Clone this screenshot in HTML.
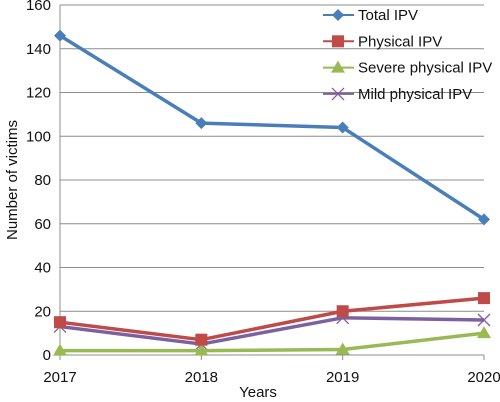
<!DOCTYPE html>
<html><head><meta charset="utf-8"><style>
body{margin:0;background:#fff}
svg{display:block;font-family:"Liberation Sans",Arial,sans-serif}
</style></head><body>
<svg id="c" width="500" height="402"></svg>
<script>
const years=["2017","2018","2019","2020"];
const totalIPV=[146,106,104,62];
const physicalIPV=[15,7,20,26];
const severeIPV=[2,2,2.5,10];
const mildIPV=[13,5,17,16];
const yTicks=[0,20,40,60,80,100,120,140,160];
const NS="http://www.w3.org/2000/svg";
const svg=document.getElementById('c');
const x0=60,x1=484,y0=355,y1=5;
const xs=i=>x0+i*(x1-x0)/(years.length-1);
const ys=v=>y0-(v/160)*(y0-y1);
function mk(t,a,p){const e=document.createElementNS(NS,t);for(const k in a)e.setAttribute(k,a[k]);(p||svg).appendChild(e);return e;}
yTicks.forEach(v=>{
 const g=mk('line',{x1:x0,x2:x1,y1:ys(v),y2:ys(v),stroke:'#8c8c8c','stroke-width':1});
 
 
 const t=mk('text',{x:51,y:ys(v)+5,'text-anchor':'end','font-size':15,fill:'#111'});
 t.textContent=v;
 
 
});
const ax=mk('line',{x1:x0,x2:x0,y1:y1,y2:y0,stroke:'#8c8c8c'});


years.forEach((y,i)=>{
 const tk=mk('line',{x1:xs(i),x2:xs(i),y1:y0,y2:y0+5,stroke:'#8c8c8c'});
 
 
 const t=mk('text',{x:xs(i),y:382,'text-anchor':'middle','font-size':15,fill:'#111'});
 t.textContent=y;
 
 
});
const yt=mk('text',{x:0,y:0,transform:'translate(17,180) rotate(-90)','text-anchor':'middle','font-size':15,fill:'#111'});
yt.textContent='Number of victims';


const xt=mk('text',{x:258,y:397,'text-anchor':'middle','font-size':15,fill:'#111'});
xt.textContent='Years';


function marker(type,cx,cy,color,p){
 if(type==='diamond')return mk('polygon',{points:`${cx},${cy-6} ${cx+6},${cy} ${cx},${cy+6} ${cx-6},${cy}`,fill:color},p);
 if(type==='square')return mk('rect',{x:cx-6,y:cy-6,width:12,height:12,fill:color},p);
 if(type==='tri')return mk('polygon',{points:`${cx},${cy-7} ${cx+7},${cy+5} ${cx-7},${cy+5}`,fill:color},p);
 const g=mk('g',{stroke:color,'stroke-width':1.3},p);
 mk('line',{x1:cx-6,y1:cy-6,x2:cx+6,y2:cy+6},g);mk('line',{x1:cx-6,y1:cy+6,x2:cx+6,y2:cy-6},g);return g;
}
const series=[
 {name:'Total IPV',d:totalIPV,c:'#4a7ebb',m:'diamond',k:'total-ipv'},
 {name:'Physical IPV',d:physicalIPV,c:'#be4b48',m:'square',k:'physical-ipv'},
 {name:'Severe physical IPV',d:severeIPV,c:'#98b954',m:'tri',k:'severe-physical-ipv'},
 {name:'Mild physical IPV',d:mildIPV,c:'#7d60a0',m:'x',k:'mild-physical-ipv'}
];
series.slice().reverse().forEach(s=>{
 const g=mk('g',{});
 
 
 const l=mk('polyline',{points:s.d.map((v,i)=>xs(i)+','+ys(v)).join(' '),fill:'none',stroke:s.c,'stroke-width':3.5,'stroke-linejoin':'round'},g);
 
 
 s.d.forEach((v,i)=>{
  const m=marker(s.m,xs(i),ys(v),s.c,g);
  
  
 });
});
series.forEach((s,i)=>{
 const g=mk('g',{});
 
 
 const y=15+i*26.3;
 mk('line',{x1:323,x2:354,y1:y,y2:y,stroke:s.c,'stroke-width':2},g);
 marker(s.m,338,y,s.c,g);
 const t=mk('text',{x:358,y:y+5,'font-size':15,fill:'#111'},g);
 t.textContent=s.name;
});
</script>
</body></html>
